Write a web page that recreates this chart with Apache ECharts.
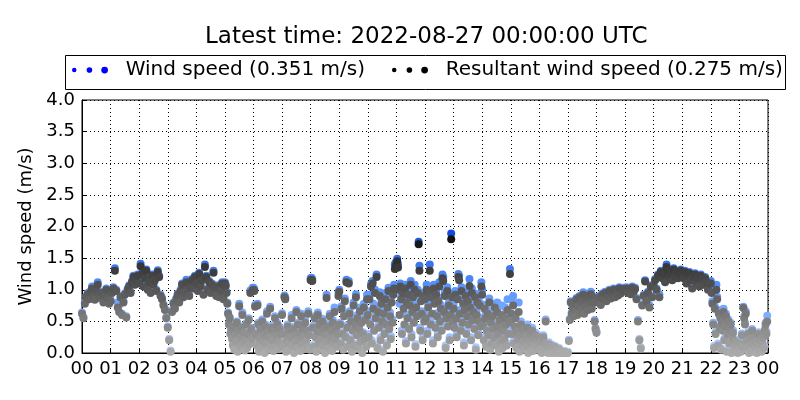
<!DOCTYPE html>
<html>
<head>
<meta charset="utf-8">
<script src="https://cdn.jsdelivr.net/npm/echarts@6/dist/echarts.min.js"></script>
<style>
    html, body { margin: 0; padding: 0; background: #fff; }
    #chart { width: 800px; height: 400px; }
</style>
</head>
<body>
<div id="chart"></div>
<script>
// one row per hour (00 .. 23); the samples of a row are evenly spread over that hour
var windSpeed = [
    [0.64, 0.57, 0.80, 0.90, 0.95, 0.87, 0.98, 1.05, 0.92, 0.86, 1.00, 1.12, 0.94, 0.89, 0.97, 0.82, 0.93, 1.02, 0.88, 0.80],
    [0.84, 0.97, 1.04, 1.34, 1.00, 0.80, 0.76, 0.90, 0.62, 0.82, 0.94, 0.58, 1.02, 1.07, 0.97, 1.14, 1.22, 1.10, 1.17, 1.24],
    [1.12, 1.41, 1.27, 1.07, 1.20, 1.32, 1.02, 1.14, 0.97, 1.24, 1.10, 1.17, 1.00, 1.31, 1.22, 0.92, 0.87, 0.77, 0.70, 0.57],
    [0.42, 0.22, 0.04, 0.67, 0.80, 0.72, 0.87, 0.94, 0.82, 1.00, 1.10, 0.90, 0.97, 1.16, 1.02, 0.92, 1.07, 1.17, 1.04, 1.22],
    [1.12, 1.00, 1.27, 1.07, 1.17, 0.94, 1.40, 1.22, 1.02, 1.14, 0.97, 1.10, 1.30, 1.04, 0.92, 1.07, 0.90, 1.00, 1.12, 0.87],
    [1.12, 1.08, 0.97, 0.80, 0.64, 0.47, 0.57, 0.32, 0.40, 0.24, 0.14, 0.44, 0.07, 0.30, 0.20, 0.50, 0.04, 0.37, 0.78, 0.12,
     0.27, 0.42, 0.64, 0.17, 0.34, 0.06, 0.22, 0.47, 0.10, 0.32, 0.55, 0.16, 0.99, 0.40, 0.24, 1.03],
    [1.03, 1.01, 0.76, 0.33, 0.15, 0.78, 0.48, 0.05, 0.25, 0.41, 0.11, 0.53, 0.21, 0.31, 0.03, 0.45, 0.18, 0.66, 0.36, 0.08,
     0.28, 0.73, 0.15, 0.43, 0.23, 0.06, 0.38, 0.58, 0.13, 0.30, 0.48, 0.09, 0.21, 0.41, 0.17, 0.33],
    [0.63, 0.13, 0.33, 0.91, 0.88, 0.05, 0.23, 0.45, 0.18, 0.38, 0.08, 0.28, 0.60, 0.15, 0.41, 0.03, 0.31, 0.21, 0.68, 0.11,
     0.48, 0.25, 0.35, 0.06, 0.62, 0.17, 0.43, 0.28, 0.09, 0.52, 0.21, 0.38, 0.13, 0.66, 0.31, 0.08],
    [1.18, 1.19, 1.17, 0.43, 0.13, 0.58, 0.28, 0.05, 0.38, 0.64, 0.18, 0.48, 0.23, 0.08, 0.35, 0.54, 0.15, 0.41, 0.03, 0.31,
     0.92, 0.21, 0.46, 0.11, 0.62, 0.28, 0.38, 0.06, 0.52, 0.18, 0.72, 0.25, 0.44, 0.13, 0.33, 0.96],
    [1.00, 0.48, 0.18, 0.74, 0.33, 0.08, 0.62, 0.86, 0.28, 1.16, 0.44, 0.13, 1.14, 0.66, 0.23, 0.55, 0.05, 0.38, 0.80, 0.15,
     0.50, 0.93, 0.31, 0.60, 0.11, 0.42, 0.72, 0.21, 0.53, 0.03, 0.33, 0.78, 0.25, 0.58, 0.13, 0.92],
    [0.66, 0.30, 0.92, 0.50, 1.09, 0.20, 1.14, 0.78, 0.40, 1.00, 0.60, 1.24, 0.12, 0.72, 0.45, 0.96, 0.25, 0.85, 0.55, 0.05,
     0.68, 0.35, 0.95, 0.50, 0.16, 0.78, 1.03, 0.43, 0.64, 0.27, 0.90, 0.53, 1.00, 1.08, 1.40, 1.43],
    [1.44, 1.49, 1.40, 1.06, 0.78, 1.10, 0.90, 0.36, 1.02, 0.74, 0.62, 1.08, 0.19, 0.86, 0.60, 1.00, 0.42, 0.80, 1.14, 0.30,
     0.70, 0.95, 0.53, 1.08, 0.14, 0.78, 0.62, 1.00, 1.76, 1.38, 0.40, 0.88, 0.66, 0.25, 0.95, 0.55],
    [0.90, 0.60, 1.08, 0.35, 0.78, 1.00, 1.40, 0.50, 0.94, 0.80, 0.20, 1.08, 0.83, 0.45, 0.98, 0.63, 0.30, 0.88, 1.12, 0.55,
     0.76, 0.40, 1.24, 1.20, 0.70, 0.96, 0.12, 0.60, 1.04, 0.47, 0.80, 0.25, 0.65, 1.89, 0.94, 0.53],
    [0.76, 0.45, 0.98, 0.60, 0.30, 0.90, 1.25, 1.22, 0.68, 0.40, 1.04, 0.53, 0.84, 0.17, 0.74, 0.96, 0.35, 0.64, 0.88, 0.50,
     1.17, 0.78, 0.25, 1.02, 0.58, 0.70, 0.43, 0.94, 0.09, 0.66, 0.86, 0.33, 0.56, 0.80, 0.47, 1.12],
    [1.00, 0.50, 0.25, 0.76, 0.60, 0.14, 0.40, 0.68, 0.33, 0.86, 0.09, 0.53, 0.20, 0.64, 0.43, 0.30, 0.78, 0.16, 0.47, 0.80,
     0.35, 0.05, 0.58, 0.23, 0.45, 0.75, 0.12, 0.40, 0.27, 0.72, 0.50, 0.16, 0.85, 0.35, 0.62, 1.33],
    [0.60, 0.85, 0.35, 0.90, 0.20, 0.58, 0.60, 0.12, 0.40, 0.27, 0.80, 0.05, 0.33, 0.50, 0.16, 0.43, 0.22, 0.08, 0.37, 0.29,
     0.14, 0.45, 0.02, 0.24, 0.34, 0.11, 0.19, 0.40, 0.05, 0.26, 0.15, 0.32, 0.08, 0.21, 0.13, 0.28],
    [0.15, 0.08, 0.21, 0.02, 0.11, 0.28, 0.04, 0.18, 0.53, 0.08, 0.13, 0.02, 0.17, 0.06, 0.10, 0.01, 0.13, 0.05, 0.08, 0.01,
     0.11, 0.04, 0.07, 0.01, 0.05, 0.08, 0.01, 0.03, 0.01, 0.02, 0.00, 0.00, 0.03, 0.00, 0.00, 0.00],
    [0.02, 0.21, 0.54, 0.82, 0.64, 0.74, 0.60, 0.80, 0.68, 0.87, 0.62, 0.76, 0.90, 0.66, 0.82, 0.72, 0.96, 0.64, 0.86, 0.77,
     0.92, 0.70, 0.88, 0.80, 0.97, 0.72, 0.90, 0.82, 0.52, 0.40],
    [0.34, 0.82, 0.90, 0.78, 0.94, 0.87, 0.97, 0.84, 0.92, 1.00, 0.88, 0.95, 1.02, 0.90, 0.98, 0.93, 1.04, 0.96, 1.01, 1.03],
    [1.00, 1.04, 0.97, 1.02, 0.95, 1.05, 0.99, 1.03, 0.87, 0.52, 0.22, 0.09, 0.77, 0.92, 1.15, 0.84, 0.97, 0.76, 1.07, 0.90],
    [1.07, 1.17, 1.02, 1.24, 0.93, 1.30, 1.20, 1.27, 1.14, 1.40, 1.32, 1.22, 1.28, 1.17, 1.34, 1.24, 1.30, 1.20, 1.27, 1.32],
    [1.27, 1.20, 1.30, 1.12, 1.24, 1.28, 1.17, 1.04, 1.22, 1.26, 1.14, 1.21, 1.07, 1.24, 1.18, 1.10, 1.20, 1.14, 1.02, 1.12],
    [1.14, 0.99, 0.82, 0.48, 0.11, 0.74, 0.33, 1.08, 0.89, 0.15, 0.68, 0.43, 0.58, 0.08, 0.52, 0.38, 0.70, 0.23, 0.45, 0.62,
     0.05, 0.35, 0.53, 0.18, 0.41, 0.48, 0.02, 0.28, 0.36, 0.13, 0.08, 0.21, 0.05, 0.15, 0.02, 0.11],
    [0.08, 0.18, 0.04, 0.31, 0.13, 0.73, 0.58, 0.48, 0.66, 0.21, 0.11, 0.33, 0.02, 0.15, 0.25, 0.08, 0.38, 0.18, 0.04, 0.28,
     0.11, 0.21, 0.02, 0.15, 0.33, 0.08, 0.23, 0.13, 0.04, 0.18, 0.28, 0.11, 0.38, 0.48, 0.34, 0.59]
];

var resultantSpeed = [
    [0.62, 0.55, 0.78, 0.88, 0.93, 0.85, 0.96, 1.02, 0.90, 0.84, 0.98, 1.08, 0.92, 0.87, 0.95, 0.80, 0.91, 1.00, 0.86, 0.78],
    [0.82, 0.95, 1.02, 1.30, 0.98, 0.72, 0.65, 0.88, 0.60, 0.80, 0.92, 0.56, 1.00, 1.05, 0.95, 1.12, 1.20, 1.08, 1.15, 1.22],
    [1.10, 1.37, 1.25, 1.05, 1.18, 1.30, 1.00, 1.12, 0.95, 1.22, 1.08, 1.15, 0.98, 1.28, 1.20, 0.90, 0.85, 0.75, 0.68, 0.55],
    [0.40, 0.20, 0.02, 0.65, 0.78, 0.70, 0.85, 0.92, 0.80, 0.98, 1.08, 0.88, 0.95, 1.12, 1.00, 0.90, 1.05, 1.15, 1.02, 1.20],
    [1.10, 0.98, 1.25, 1.05, 1.15, 0.92, 1.36, 1.20, 1.00, 1.12, 0.95, 1.08, 1.27, 1.02, 0.90, 1.05, 0.88, 0.98, 1.10, 0.85],
    [1.10, 1.06, 0.95, 0.78, 0.62, 0.45, 0.55, 0.30, 0.38, 0.22, 0.12, 0.42, 0.05, 0.28, 0.18, 0.48, 0.02, 0.35, 0.74, 0.10,
     0.25, 0.40, 0.60, 0.15, 0.32, 0.04, 0.20, 0.45, 0.08, 0.30, 0.52, 0.14, 0.95, 0.38, 0.22, 0.99],
    [1.00, 0.98, 0.73, 0.30, 0.12, 0.75, 0.45, 0.02, 0.22, 0.38, 0.08, 0.50, 0.18, 0.28, 0.00, 0.42, 0.15, 0.62, 0.33, 0.05,
     0.25, 0.70, 0.12, 0.40, 0.20, 0.03, 0.35, 0.55, 0.10, 0.27, 0.45, 0.06, 0.18, 0.38, 0.14, 0.30],
    [0.60, 0.10, 0.30, 0.88, 0.85, 0.02, 0.20, 0.42, 0.15, 0.35, 0.05, 0.25, 0.55, 0.12, 0.38, 0.00, 0.28, 0.18, 0.65, 0.08,
     0.45, 0.22, 0.32, 0.03, 0.58, 0.14, 0.40, 0.25, 0.06, 0.48, 0.18, 0.35, 0.10, 0.62, 0.28, 0.05],
    [1.15, 1.16, 1.14, 0.40, 0.10, 0.55, 0.25, 0.02, 0.35, 0.60, 0.15, 0.45, 0.20, 0.05, 0.32, 0.50, 0.12, 0.38, 0.00, 0.28,
     0.87, 0.18, 0.42, 0.08, 0.58, 0.25, 0.35, 0.03, 0.48, 0.15, 0.65, 0.22, 0.40, 0.10, 0.30, 0.90],
    [0.97, 0.45, 0.15, 0.70, 0.30, 0.05, 0.58, 0.82, 0.25, 1.12, 0.40, 0.10, 1.10, 0.62, 0.20, 0.50, 0.02, 0.35, 0.75, 0.12,
     0.45, 0.88, 0.28, 0.55, 0.08, 0.38, 0.66, 0.18, 0.48, 0.00, 0.30, 0.72, 0.22, 0.52, 0.10, 0.85],
    [0.60, 0.25, 0.85, 0.45, 1.05, 0.15, 1.10, 0.70, 0.35, 0.95, 0.55, 1.20, 0.08, 0.65, 0.40, 0.90, 0.20, 0.78, 0.50, 0.02,
     0.62, 0.30, 0.85, 0.45, 0.12, 0.72, 0.98, 0.38, 0.58, 0.22, 0.80, 0.48, 0.92, 1.02, 1.33, 1.38],
    [1.40, 1.45, 1.35, 1.00, 0.60, 1.05, 0.85, 0.30, 0.95, 0.70, 0.45, 1.02, 0.15, 0.80, 0.55, 0.92, 0.38, 0.75, 1.08, 0.25,
     0.65, 0.88, 0.48, 1.00, 0.10, 0.72, 0.58, 0.95, 1.72, 1.30, 0.35, 0.82, 0.62, 0.20, 0.90, 0.50],
    [0.85, 0.55, 1.00, 0.30, 0.72, 0.95, 1.30, 0.45, 0.88, 0.62, 0.15, 1.02, 0.78, 0.40, 0.92, 0.58, 0.25, 0.82, 1.05, 0.50,
     0.70, 0.35, 1.18, 1.14, 0.65, 0.90, 0.08, 0.55, 0.98, 0.42, 0.75, 0.20, 0.60, 1.80, 0.88, 0.48],
    [0.70, 0.40, 0.92, 0.55, 0.25, 0.85, 1.20, 1.15, 0.62, 0.35, 0.98, 0.48, 0.78, 0.12, 0.68, 0.90, 0.30, 0.58, 0.82, 0.45,
     1.06, 0.72, 0.20, 0.95, 0.52, 0.65, 0.38, 0.88, 0.05, 0.60, 0.80, 0.28, 0.50, 0.75, 0.42, 1.05],
    [0.92, 0.45, 0.20, 0.70, 0.55, 0.10, 0.35, 0.62, 0.28, 0.80, 0.05, 0.48, 0.15, 0.58, 0.38, 0.25, 0.72, 0.12, 0.42, 0.65,
     0.30, 0.02, 0.52, 0.18, 0.40, 0.60, 0.08, 0.35, 0.22, 0.55, 0.45, 0.12, 0.68, 0.30, 0.50, 1.25],
    [0.48, 0.62, 0.30, 0.75, 0.15, 0.42, 0.55, 0.08, 0.35, 0.22, 0.65, 0.02, 0.28, 0.45, 0.12, 0.38, 0.18, 0.05, 0.32, 0.25,
     0.10, 0.40, 0.00, 0.20, 0.30, 0.08, 0.15, 0.35, 0.03, 0.22, 0.12, 0.28, 0.05, 0.18, 0.10, 0.25],
    [0.12, 0.05, 0.18, 0.00, 0.08, 0.25, 0.02, 0.15, 0.50, 0.06, 0.10, 0.00, 0.14, 0.04, 0.08, 0.00, 0.11, 0.03, 0.06, 0.00,
     0.09, 0.02, 0.05, 0.00, 0.03, 0.06, 0.00, 0.02, 0.00, 0.01, 0.00, 0.00, 0.02, 0.00, 0.00, 0.00],
    [0.00, 0.19, 0.52, 0.80, 0.62, 0.72, 0.58, 0.78, 0.66, 0.85, 0.60, 0.74, 0.88, 0.64, 0.80, 0.70, 0.92, 0.62, 0.84, 0.75,
     0.90, 0.68, 0.86, 0.78, 0.93, 0.70, 0.88, 0.80, 0.50, 0.38],
    [0.32, 0.80, 0.88, 0.76, 0.92, 0.85, 0.95, 0.82, 0.90, 0.98, 0.86, 0.93, 1.00, 0.88, 0.96, 0.91, 1.02, 0.94, 0.99, 1.01],
    [0.98, 1.02, 0.95, 1.00, 0.93, 1.03, 0.97, 1.01, 0.85, 0.50, 0.20, 0.07, 0.75, 0.90, 1.13, 0.82, 0.95, 0.72, 1.05, 0.88],
    [1.05, 1.15, 1.00, 1.22, 0.88, 1.28, 1.18, 1.25, 1.12, 1.36, 1.30, 1.20, 1.26, 1.15, 1.32, 1.22, 1.28, 1.18, 1.25, 1.30],
    [1.25, 1.18, 1.28, 1.10, 1.22, 1.26, 1.15, 1.02, 1.20, 1.24, 1.12, 1.19, 1.05, 1.22, 1.16, 1.08, 1.18, 1.12, 1.00, 1.10],
    [1.10, 0.95, 0.78, 0.45, 0.08, 0.70, 0.30, 1.00, 0.85, 0.12, 0.62, 0.40, 0.55, 0.05, 0.48, 0.35, 0.65, 0.20, 0.42, 0.58,
     0.02, 0.30, 0.50, 0.15, 0.38, 0.45, 0.00, 0.25, 0.32, 0.10, 0.05, 0.18, 0.02, 0.12, 0.00, 0.08],
    [0.05, 0.15, 0.02, 0.28, 0.10, 0.71, 0.55, 0.45, 0.62, 0.18, 0.08, 0.30, 0.00, 0.12, 0.22, 0.05, 0.35, 0.15, 0.02, 0.25,
     0.08, 0.18, 0.00, 0.12, 0.30, 0.05, 0.20, 0.10, 0.02, 0.15, 0.25, 0.08, 0.35, 0.45, 0.30, 0.50]
];

var hourLabels = ['00', '01', '02', '03', '04', '05', '06', '07', '08', '09', '10', '11',
    '12', '13', '14', '15', '16', '17', '18', '19', '20', '21', '22', '23', '00'];

var latestWind = '0.351';
var latestResultant = '0.275';
var titleText = 'Latest time: 2022-08-27 00:00:00 UTC';

function toPoints(rows) {
    var pts = [];
    rows.forEach(function (row, h) {
        row.forEach(function (v, i) {
            pts.push([h + i / row.length, v]);
        });
    });
    return pts;
}

var font = 'DejaVu Sans';
// three dots of growing size, like the scatter legend handle
var dots = 'path://M0,3a2,2 0 1,0 4,0a2,2 0 1,0 -4,0z' +
    'M13,3a2.5,2.5 0 1,0 5,0a2.5,2.5 0 1,0 -5,0z' +
    'M26,3a3,3 0 1,0 6,0a3,3 0 1,0 -6,0z';

var nameWind = 'Wind speed (' + latestWind + ' m/s)';
var nameResultant = 'Resultant wind speed (' + latestResultant + ' m/s)';

var option = {
    animation: false,
    backgroundColor: '#fff',
    textStyle: { fontFamily: font },
    title: {
        text: titleText,
        left: 200,
        top: 21,
        textStyle: { fontFamily: font, fontSize: 23, fontWeight: 'normal', color: '#000' }
    },
    graphic: [
        {
            type: 'rect',
            shape: { x: 65.5, y: 55.5, width: 720, height: 34 },
            style: { fill: '#fff', stroke: '#000', lineWidth: 1 },
            z: -1
        }
    ],
    legend: {
        left: 72,
        top: 60,
        padding: 0,
        itemGap: 27,
        itemWidth: 36,
        itemHeight: 7,
        selectedMode: false,
        icon: dots,
        formatter: function (name) { return '  ' + name; },
        textStyle: { fontFamily: font, fontSize: 20, color: '#000' },
        data: [
            { name: nameWind, itemStyle: { color: '#0000ff' } },
            { name: nameResultant, itemStyle: { color: '#000000' } }
        ]
    },
    grid: {
        left: 82,
        right: 32,
        top: 100,
        bottom: 47,
        show: true,
        borderColor: '#000',
        borderWidth: 1
    },
    xAxis: {
        type: 'value',
        min: 0,
        max: 24,
        interval: 1,
        axisLine: { lineStyle: { color: '#000' } },
        axisTick: { inside: true, length: 4, lineStyle: { color: '#000' } },
        axisLabel: {
            color: '#000',
            fontSize: 18,
            fontFamily: font,
            margin: 7,
            formatter: function (v) { return hourLabels[v]; }
        },
        splitLine: { lineStyle: { color: '#000', type: [1, 3], width: 1 } }
    },
    yAxis: {
        type: 'value',
        min: 0,
        max: 4,
        interval: 0.5,
        name: 'Wind speed (m/s)',
        nameLocation: 'middle',
        nameGap: 46,
        nameTextStyle: { fontFamily: font, fontSize: 18, color: '#000' },
        axisLine: { show: true, lineStyle: { color: '#000' } },
        axisTick: { show: true, inside: true, length: 4, lineStyle: { color: '#000' } },
        axisLabel: {
            color: '#000',
            fontSize: 18,
            fontFamily: font,
            margin: 7,
            formatter: function (v) { return v.toFixed(1); }
        },
        splitLine: { lineStyle: { color: '#000', type: [1, 3], width: 1 } }
    },
    visualMap: [
        {
            type: 'continuous',
            show: false,
            seriesIndex: 0,
            dimension: 1,
            min: 0,
            max: 2,
            inRange: { color: ['#b4ceff', '#5a96ff', '#0a3fd6'] }
        },
        {
            type: 'continuous',
            show: false,
            seriesIndex: 1,
            dimension: 1,
            min: 0,
            max: 2,
            inRange: { color: ['#ababab', '#000000'] }
        }
    ],
    series: [
        {
            name: nameWind,
            type: 'scatter',
            symbolSize: 8,
            silent: true,
            itemStyle: { color: '#0000ff', opacity: 1 },
            data: toPoints(windSpeed)
        },
        {
            name: nameResultant,
            type: 'scatter',
            symbolSize: 8,
            silent: true,
            itemStyle: { color: '#000000', opacity: 1 },
            data: toPoints(resultantSpeed)
        }
    ]
};

var chart = echarts.init(document.getElementById('chart'));
chart.setOption(option);
</script>
</body>
</html>
